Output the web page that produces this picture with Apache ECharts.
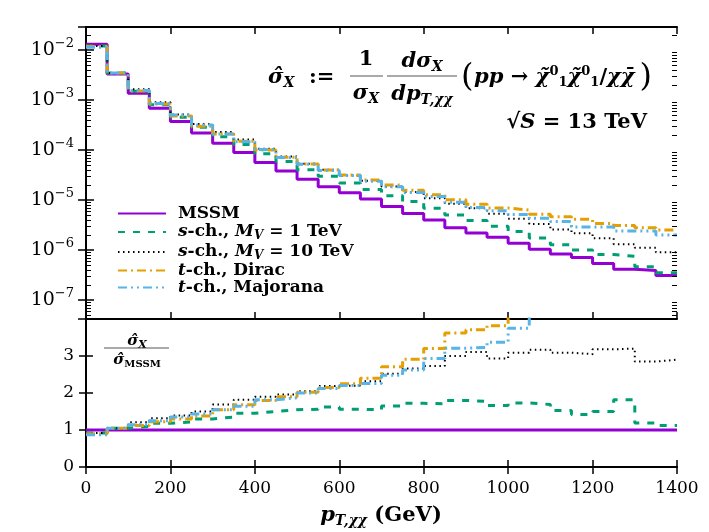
<!DOCTYPE html>
<html>
<head>
<meta charset="utf-8">
<script src="https://cdn.jsdelivr.net/npm/echarts@6/dist/echarts.min.js"></script>
<style>
  html, body { margin: 0; padding: 0; background: #fff; }
  #main { width: 709px; height: 532px; }
</style>
</head>
<body>
<div id="main"></div>
<script>
// bin edges in GeV (last one closes the final bin)
var binEdges = [0, 50, 100, 150, 200, 250, 300, 350, 400, 450, 500, 550, 600, 650, 700,
  750, 800, 850, 900, 950, 1000, 1050, 1100, 1150, 1200, 1250, 1300, 1350, 1400];

// normalised distributions, one value per bin
var sigMSSM = [1.3e-2, 3.3e-3, 1.36e-3, 6.8e-4, 3.7e-4, 2.2e-4, 1.36e-4, 8.9e-5, 5.6e-5, 3.8e-5,
  2.6e-5, 1.85e-5, 1.4e-5, 1.05e-5, 7.4e-6, 5.4e-6, 4.0e-6, 2.8e-6, 2.2e-6, 1.8e-6,
  1.36e-6, 1.03e-6, 8.3e-7, 7.1e-7, 5.4e-7, 4.1e-7, 3.9e-7, 3.1e-7];
var sigS1 = [1.2e-2, 3.45e-3, 1.5e-3, 8.0e-4, 4.5e-4, 2.86e-4, 1.84e-4, 1.29e-4, 8.4e-5, 5.9e-5,
  4.05e-5, 3.0e-5, 2.18e-5, 1.63e-5, 1.22e-5, 9.3e-6, 6.8e-6, 5.0e-6, 3.9e-6, 3.0e-6,
  2.35e-6, 1.74e-6, 1.27e-6, 1.0e-6, 8.1e-7, 7.5e-7, 4.6e-7, 3.5e-7];
var sigS10 = [1.2e-2, 3.45e-3, 1.65e-3, 9.0e-4, 5.1e-4, 3.3e-4, 2.3e-4, 1.62e-4, 1.06e-4, 7.4e-5,
  5.3e-5, 4.05e-5, 3.1e-5, 2.44e-5, 1.86e-5, 1.44e-5, 1.09e-5, 8.4e-6, 6.8e-6, 5.3e-6,
  4.2e-6, 3.3e-6, 2.56e-6, 2.17e-6, 1.72e-6, 1.31e-6, 1.11e-6, 9.0e-7];
var sigDirac = [1.17e-2, 3.45e-3, 1.52e-3, 8.3e-4, 4.8e-4, 3.0e-4, 2.1e-4, 1.5e-4, 1.0e-4, 7.2e-5,
  5.25e-5, 4.0e-5, 3.15e-5, 2.5e-5, 2.0e-5, 1.57e-5, 1.28e-5, 1.01e-5, 8.2e-6, 6.9e-6,
  6.3e-6, 5.2e-6, 4.6e-6, 4.1e-6, 3.4e-6, 3.1e-6, 2.8e-6, 2.5e-6];
var sigMaj = [1.13e-2, 3.45e-3, 1.55e-3, 8.5e-4, 5.0e-4, 3.15e-4, 2.1e-4, 1.46e-4, 1.02e-4, 7.1e-5,
  5.2e-5, 3.9e-5, 3.1e-5, 2.37e-5, 1.84e-5, 1.41e-5, 1.17e-5, 9.0e-6, 7.1e-6, 6.1e-6,
  5.1e-6, 4.3e-6, 3.7e-6, 2.9e-6, 2.9e-6, 2.4e-6, 2.4e-6, 2.0e-6];

// ratios to MSSM (lower panel)
var ratMSSM = [1, 1, 1, 1, 1, 1, 1, 1, 1, 1, 1, 1, 1, 1, 1, 1, 1, 1, 1, 1, 1, 1, 1, 1, 1, 1, 1, 1];
var ratS1 = [0.92, 1.05, 1.1, 1.18, 1.22, 1.3, 1.35, 1.45, 1.5, 1.55, 1.56, 1.62, 1.56, 1.55,
  1.65, 1.72, 1.71, 1.8, 1.77, 1.66, 1.73, 1.69, 1.53, 1.42, 1.5, 1.82, 1.19, 1.12];
var ratS10 = [0.92, 1.05, 1.21, 1.32, 1.39, 1.5, 1.69, 1.82, 1.9, 1.96, 2.05, 2.19, 2.2, 2.32,
  2.52, 2.66, 2.73, 3.0, 3.11, 2.93, 3.09, 3.17, 3.09, 3.05, 3.18, 3.2, 2.85, 2.9];
var ratDirac = [0.9, 1.05, 1.12, 1.22, 1.3, 1.38, 1.55, 1.68, 1.8, 1.9, 2.02, 2.15, 2.25, 2.4,
  2.71, 2.91, 3.2, 3.62, 3.71, 3.82, 4.6, 5.0, 5.6, 5.8, 6.3, 7.5, 7.2, 8.1];
var ratMaj = [0.87, 1.05, 1.14, 1.25, 1.35, 1.43, 1.55, 1.64, 1.82, 1.87, 2.0, 2.12, 2.2, 2.26,
  2.48, 2.62, 2.93, 3.21, 3.23, 3.37, 3.75, 4.2, 4.5, 4.1, 5.4, 5.8, 6.2, 6.4];

var serif = "DejaVu Serif";
var names = ["MSSM", "s-ch., MV = 1 TeV", "s-ch., MV = 10 TeV", "t-ch., Dirac", "t-ch., Majorana"];
var legendText = {
  "MSSM": "{b|MSSM}",
  "s-ch., MV = 1 TeV": "{i|s}{b|-ch., }{i|M}{sub|V}{b| = 1 TeV}",
  "s-ch., MV = 10 TeV": "{i|s}{b|-ch., }{i|M}{sub|V}{b| = 10 TeV}",
  "t-ch., Dirac": "{i|t}{b|-ch., Dirac}",
  "t-ch., Majorana": "{i|t}{b|-ch., Majorana}"
};
var styles = [
  { color: "#9400D3", width: 3, type: "solid" },
  { color: "#009E73", width: 3, type: [7, 8] },
  { color: "#000000", width: 2, type: [1.5, 3.5] },
  { color: "#E69F00", width: 3, type: [9, 4, 2, 4] },
  { color: "#56B4E9", width: 3, type: [9, 4, 2, 4, 2, 4] }
];

// log-axis limits (in decades)
var logMin = -7.38, logMax = -1.54;
var gridL = 86, gridR = 709 - 32;

function steps(vals) {
  var d = vals.map(function (v, i) { return [binEdges[i], v]; });
  d.push([binEdges[vals.length], vals[vals.length - 1]]);
  return d;
}

function histo(i, vals, xi, yi) {
  return {
    name: names[i], type: "line", step: "end", xAxisIndex: xi, yAxisIndex: yi,
    data: steps(vals), symbol: "none", showSymbol: false, silent: true,
    lineStyle: styles[i], itemStyle: { color: styles[i].color }
  };
}

var frame = { lineStyle: { color: "#000", width: 2 } };
function xAx(grid, pos, labels) {
  return {
    type: "value", gridIndex: grid, position: pos, min: 0, max: 1400, interval: 200,
    axisLine: frame, splitLine: { show: false },
    axisTick: { inside: true, length: 7, lineStyle: { color: "#000", width: 1.5 } },
    axisLabel: { show: labels, margin: 13, color: "#000", fontFamily: serif, fontSize: 17,
      formatter: function (v) { return String(v); } }
  };
}
function logAx(pos, labels) {
  return {
    type: "log", gridIndex: 0, position: pos, logBase: 10,
    min: Math.pow(10, logMin), max: Math.pow(10, logMax),
    axisLine: frame, splitLine: { show: false },
    axisTick: { inside: true, length: 8, lineStyle: { color: "#000", width: 1.5 } },
    axisLabel: {
      show: labels, margin: 12, color: "#000",
      formatter: function (v) {
        var l = Math.log10(v), e = Math.round(l);
        if (Math.abs(l - e) > 0.01) return "";
        return "{b|10}{e|\u2212" + Math.abs(e) + "}";
      },
      rich: {
        b: { fontFamily: serif, fontSize: 19, color: "#000" },
        e: { fontFamily: serif, fontSize: 13, color: "#000", padding: [0, 0, 12, 0] }
      }
    }
  };
}
function ratAx(pos, labels) {
  return {
    type: "value", gridIndex: 1, position: pos, min: 0, max: 4, interval: 1,
    axisLine: frame, splitLine: { show: false },
    axisTick: { inside: true, length: 7, lineStyle: { color: "#000", width: 1.5 } },
    axisLabel: {
      show: labels, margin: 12, color: "#000", fontFamily: serif, fontSize: 17,
      formatter: function (v) { return v > 3.5 ? "" : String(v); }
    }
  };
}

var bold = { fontFamily: serif, fontWeight: "bold", fontSize: 21, color: "#000" };
var boldIt = { fontFamily: serif, fontWeight: "bold", fontStyle: "italic", fontSize: 21, color: "#000" };
function sub(size, down) {
  return { fontFamily: serif, fontWeight: "bold", fontStyle: "italic", fontSize: size, color: "#000", padding: [down, 0, 0, 0] };
}
function sup(size, up) {
  return { fontFamily: serif, fontWeight: "bold", fontSize: size, color: "#000", padding: [0, 0, up, 0] };
}
var formulaRich = {
  b: bold, i: boldIt, s: sub(14, 10),
  p: sup(13, 12), q: Object.assign({}, sub(13, 10), { fontStyle: "normal" }),
  par: { fontFamily: serif, fontSize: 32, color: "#000" }
};
function txt(x, y, text, align, rich) {
  return {
    type: "text", x: x, y: y, z: 100,
    style: { text: text, rich: rich || formulaRich, align: align, verticalAlign: "middle",
      textAlign: align, textVerticalAlign: "middle" }
  };
}
function bar(x1, x2, y) {
  return { type: "line", z: 100, shape: { x1: x1, y1: y, x2: x2, y2: y },
    style: { stroke: "#555", lineWidth: 1.2 } };
}

var ratioRich = {
  i: { fontFamily: serif, fontWeight: "bold", fontStyle: "italic", fontSize: 15, color: "#000" },
  s: { fontFamily: serif, fontWeight: "bold", fontStyle: "italic", fontSize: 11, color: "#000", padding: [8, 0, 0, 0] },
  r: { fontFamily: serif, fontWeight: "bold", fontSize: 10, color: "#000", padding: [8, 0, 0, 0] }
};

var labels = [
  txt(268, 78, "{i|\u03C3\u0302}{s|X}{b|  :=}", "left"),
  txt(366, 60, "{b|1}", "center"),
  bar(350, 383, 76),
  txt(366, 94, "{i|\u03C3}{s|X}", "center"),
  txt(422, 62, "{i|d\u03C3}{s|X}", "center"),
  bar(387, 457, 76),
  txt(422, 95, "{i|dp}{s|T,\u03C7\u03C7}", "center"),
  txt(461, 78, "{par|(}", "left"),
  txt(474, 78, "{i|pp}{b| \u2192 }{i|\u03C7\u0303}{p|0}{q|1}{i|\u03C7\u0303}{p|0}{q|1}{b|/}{i|\u03C7\u03C7\u0304}", "left"),
  txt(652, 78, "{par|)}", "right"),
  txt(647, 123, "{b|\u221A}{i|S}{b| = 13 TeV}", "right"),
  txt(137, 341, "{i|\u03C3\u0302}{s|X}", "center", ratioRich),
  bar(104, 169, 348),
  txt(137, 360, "{i|\u03C3\u0302}{r|MSSM}", "center", ratioRich),
  txt(381, 516, "{i|p}{s|T,\u03C7\u03C7}{b| (GeV)}", "center")
];

var chart = echarts.init(document.getElementById("main"));
chart.setOption({
  animation: false,
  backgroundColor: "#fff",
  grid: [
    { left: gridL, right: 32, top: 27, height: 292 },
    { left: gridL, right: 32, top: 319, height: 148 }
  ],
  xAxis: [xAx(0, "bottom", false), xAx(0, "top", false), xAx(1, "bottom", true), xAx(1, "top", false)],
  yAxis: [logAx("left", true), logAx("right", false), ratAx("left", true), ratAx("right", false)],
  legend: {
    data: names, orient: "vertical", left: 112, top: 200,
    itemWidth: 48, itemHeight: 14, itemGap: 0, selectedMode: false,
    itemStyle: { opacity: 0 },
    formatter: function (n) { return legendText[n]; },
    textStyle: {
      padding: [0, 0, 0, 7],
      rich: {
        b: { fontFamily: serif, fontWeight: "bold", fontSize: 17, lineHeight: 19, color: "#000" },
        i: { fontFamily: serif, fontWeight: "bold", fontStyle: "italic", fontSize: 17, lineHeight: 19, color: "#000" },
        sub: { fontFamily: serif, fontWeight: "bold", fontStyle: "italic", fontSize: 12, lineHeight: 10, color: "#000", padding: [8, 0, 0, 0] }
      }
    }
  },
  graphic: labels,
  series: [
    histo(0, sigMSSM, 0, 0), histo(1, sigS1, 0, 0), histo(2, sigS10, 0, 0),
    histo(3, sigDirac, 0, 0), histo(4, sigMaj, 0, 0),
    histo(0, ratMSSM, 2, 2), histo(1, ratS1, 2, 2), histo(2, ratS10, 2, 2),
    histo(3, ratDirac, 2, 2), histo(4, ratMaj, 2, 2)
  ]
});

// log minor ticks (2..9 x 10^n), placed through the log axis scale
var minorTicks = [];
for (var n = -8; n <= -2; n++) {
  for (var k = 2; k <= 9; k++) {
    var l = n + Math.log10(k);
    if (l <= logMin || l >= logMax) continue;
    var y = Math.round(chart.convertToPixel({ yAxisIndex: 0 }, k * Math.pow(10, n))) + 0.5;
    minorTicks.push({ type: "line", z: 50, shape: { x1: gridL, y1: y, x2: gridL + 5, y2: y },
      style: { stroke: "#000", lineWidth: 1 } });
    minorTicks.push({ type: "line", z: 50, shape: { x1: gridR - 5, y1: y, x2: gridR, y2: y },
      style: { stroke: "#000", lineWidth: 1 } });
  }
}
chart.setOption({ graphic: labels.concat(minorTicks) });
</script>
</body>
</html>
